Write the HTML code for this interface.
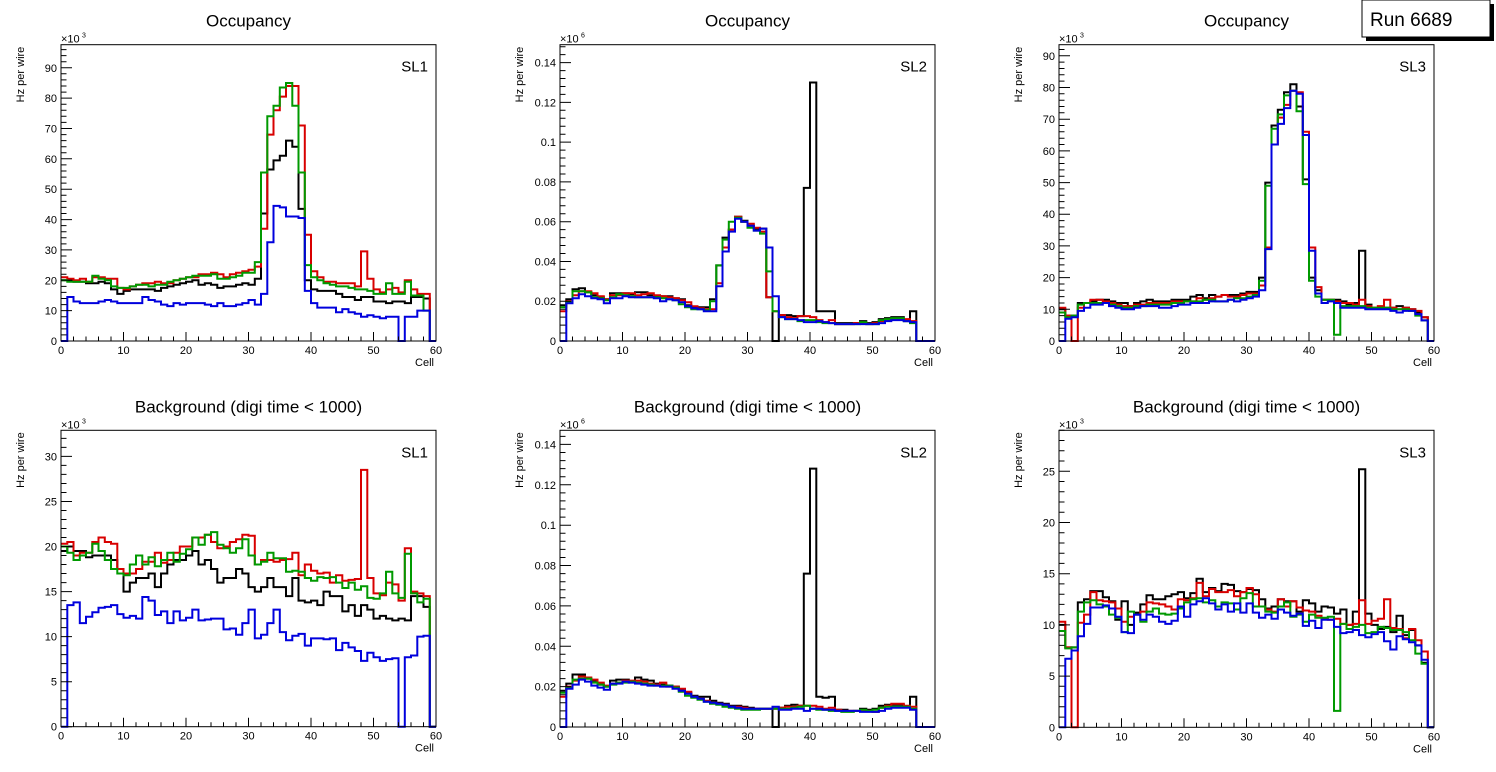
<!DOCTYPE html>
<html><head><meta charset="utf-8"><style>
html,body{margin:0;padding:0;background:#fff;}
svg{display:block;font-family:"Liberation Sans",sans-serif;}
</style></head><body>
<svg id="c" width="1496" height="772" viewBox="0 0 1496 772">
<g>
<rect x="1366" y="4" width="128" height="37" fill="#000"/>
<rect x="1362" y="0" width="128" height="37" fill="#fff" stroke="#000" stroke-width="1"/>
<text x="1370" y="26" font-size="19">Run 6689</text>
</g>
</svg>
<script>
// ---- data (bins 0..59) ----
const cells = Array.from({length:60},(_,i)=>i);
const seriesColors = ["#000000","#d80000","#009900","#0000dd"];

const occSL1Black=[20,20,19.5,19.5,19,19,19.5,19,17,15.5,16.5,17,17,17,17,16.5,17.5,18,18.5,19,19.5,20,18.5,19,18.5,17.5,18,18,18.5,19,18.5,20.5,42,56.5,59.5,61,66,64,43.5,20,17,16.5,16.5,16.5,15.5,14.5,14.5,13.5,14.5,14.5,13,13,12.5,13,13,12.5,14.5,14.5,14,0];
const occSL1Red=[21,20.5,20,20.5,19.5,21,21,20.5,20.5,17.5,17,18,18.5,19,19,19.5,19,19,20,20.5,21,21,22,22,22.5,22,21,22,22.5,23,23.5,24.5,37,68,76,80.5,84,84,71,35,23,21,19.5,19.5,19,19,19,18,29.5,20.5,17,16,17,17.5,16,20,17,15.5,15.5,0];
const occSL1Green=[20,19.5,19.5,19.5,19.5,21.5,20.5,20,18,17.5,17.5,18,18.5,18.5,18,18.5,18.5,19.5,20,20.5,21,21.5,21.5,21.5,22,20.5,20.5,21,21.5,22.5,22.5,26,55.5,74,77.5,83.5,85,77.5,55.5,25,21,20,19,18.5,18,18,17.5,17,17,16.5,15.5,15.5,19,15.5,15.5,19.5,15,15,10,0];
const occSL1Blue=[0,14.5,13,12.5,12.5,12.5,13,13.5,13,12.5,12.5,12.5,12.5,14.5,13.5,13,12,11.5,12.5,12,12.5,12.5,12.5,12,11.5,12.5,11.5,11.5,12,12.5,13.5,12,15.5,32.5,44.5,44,41,41,40.5,16.5,12.5,11,11,11,9.5,10.5,9.5,9,8,8.5,8,7.5,8,8,0,8,8,10,10,0];

const occSL2Black=[18,21,26,26.5,24.5,23,22,21,24,24,24,23.5,24.5,24.5,23,22.5,22.5,22.5,21.5,21,18,17,17,17,21,38,52,56,62.5,60.5,58,56.5,56.5,22,0,13,13,12.5,12.5,77,130,15,15,15,9,9,9,9,10,9,9.5,11,11.5,12,12,10,15,0,0,0];
const occSL2Red=[15,20,23,25,25,24,22.5,21,23,23,24,24,23,23.5,24,23,22.5,22,21.5,20.5,19.5,17.5,16.5,16,16,29,47,56,62.5,60,59,57,55,22,15,13,12,11.5,12.5,12.5,12,10.5,9.5,10.5,8.5,8.5,8.5,9,9,8.5,9,10,10.5,11,11,11,10,0,0,0];
const occSL2Green=[17,19.5,25,25,24.5,22,21.5,20.5,22,23.5,23,22.5,22,22,22,22,21.5,21,20.5,18.5,17,16,16,15.5,20,38,51,60,62,60,57,55.5,54,35,15,12,11,11,10,10.5,10.5,9.5,9,9,8.5,8.5,8.5,8.5,9.5,8.5,8.5,10.5,11,11.5,11.5,10,9,0,0,0];
const occSL2Blue=[0,19,21.5,23.5,22.5,21.5,21,19,21.5,21.5,22.5,22,22,22,22,21.5,20,21,20.5,19.5,17.5,16.5,16,15,15,27.5,45,55,61.5,60,58,55.5,56.5,47,22.5,12,11,11,10.5,9.5,9.5,10,9.5,9,8.5,8.5,8.5,8.5,8.5,8.5,8.5,9,10,10.5,10.5,10,9.5,0,0,0];

const occSL3Black=[10,8,8,12,12,12.5,13,13,12.5,12,12,11,12,12.5,13,12.5,12.5,12.5,13,13,13,14,14.5,13.5,14.5,14,14.5,14.5,14.5,15,15.5,15.5,20,50,68,73,78.5,81,74,51,20,16,13,13,13,12.5,11.5,12,28.5,11.5,10.5,10.5,10.5,10.5,11,10.5,10,9,7.5,0];
const occSL3Red=[10.5,8,0,10.5,12,13,13,12.5,12,11.5,11,11,11.5,11.5,12,12,12,12,12.5,12.5,12.5,12.5,13.5,13,13.5,14,14.5,14,14,14.5,15,15,17.5,29.5,62,70.5,74.5,79,78.5,66,29.5,17,13,13,12.5,12,12,11.5,13,11,10.5,11,13,10.5,10,10.5,10,9.5,7.5,0];
const occSL3Green=[9,7.5,8,11.5,12,12,12,12,11.5,11,10.5,10.5,11,11,11.5,11.5,11.5,11.5,12,12,12.5,12.5,12.5,13,13,12.5,12.5,13,13.5,13.5,14,14.5,19,49,67,71.5,77.5,79,72.5,49.5,19,14,13,13,2,11,11,11,11,10.5,10.5,10.5,10.5,10,10,10,9.5,8,6.5,0];
const occSL3Blue=[0,7,7.5,9.5,10.5,11.5,11.5,12,11,10.5,10,10,10.5,11,11,11,10.5,10.5,11,11.5,11.5,12,12,12,12.5,12.5,12.5,13,12.5,13,13.5,14,16,29,62,68.5,73.5,79,78,65,28.5,15,12,12.5,12,10.5,10.5,10.5,10.5,10,10,10,10,9.5,9,9.5,9.5,8.5,6.5,0];

const bgSL1Black=[19.5,20,19.5,19.5,18.8,19,19,19,18.5,17.5,15,16,16.5,16.5,17,15.5,17,18,18.5,18.5,19,19.5,18,18.5,17.5,16,16.5,16.5,17.5,17,15.5,15,15.5,16.5,15.5,15.5,14.5,16.5,14,13.8,14,13.5,15,14.5,14.5,12.8,13.5,12.3,13.5,13,12,12.3,12,11.8,12,11.8,14.5,14.5,13.3,0];
const bgSL1Red=[20.3,20.5,19,19.3,19.3,20.5,21,20.5,20.3,17.5,17,17,17.5,18.3,18.3,19.3,18.2,18.5,19.3,20,20,21,21,21.3,20.5,19.8,20,20.5,20.8,21.3,21.2,18,18.5,18.5,18.3,18.5,18.6,19.3,16.8,18,17.3,17,17.1,16,16.8,16.2,16.3,16.4,28.5,16.5,14.8,14.6,16,15.8,14,19.8,15,14.8,14.5,0];
const bgSL1Green=[20,19.3,18.5,19,19.3,20.3,19.5,18.5,17.5,17,16.8,18,19,18,18.8,17.8,18.5,19.3,18.3,19.2,19.7,21,20.2,21.3,21.6,20.2,19.8,19.3,19.8,20.8,19,18,18.3,19.3,18.7,18.7,17.2,17.3,17.2,16.5,16.2,16.6,16.5,16.6,16,15.4,16,15.2,15.6,14.3,14.2,14.8,17.2,14.8,14.3,19.2,14.8,13.8,14.2,0];
const bgSL1Blue=[0,13.5,13.8,11.5,12.2,12.7,13.2,13.3,13.5,12.5,12.1,12.3,12,14.4,14,12.4,12.8,11.5,12.8,11.8,12.1,13,11.8,11.9,12,12,10.8,10.9,10.2,11.5,13,9.8,10.2,11.5,13,10.5,9.6,10.1,10.3,9,9.8,9.8,9.7,9.8,8.5,9.3,8.8,8.4,7.3,8.2,7.7,7.3,7.5,7.6,0,7.7,7.9,10,10.1,0];

const bgSL2Black=[18,21.5,26,26,24,23,21,20,23,23.5,23.5,22.5,24.5,23.5,23,21.5,21,20.5,20,18.5,17,15.5,15,15,13,12,11.5,10.5,10.5,10,9.5,9,9,9,0,9.5,10.5,11,10.5,76,128,15,14.5,15,8.5,8.5,8,8,9,8.5,9,10.5,11,11,11,10,15,0,0,0];
const bgSL2Red=[15,20,23,25,24.5,23.5,22,20.5,21.5,22,23,23,23,22.5,21.5,21,22,20,20,19,17.5,15,14,13,12,11.5,11,10,10,9.5,9,9,9,9,9,9.5,10,10,10.5,10.5,10.5,10,9,9.5,8.5,8,8,8,8,8,7.5,9.5,10.5,11.5,11.5,10.5,10,0,0,0];
const bgSL2Green=[17,19.5,23.5,24,24,22,21,20,21,22,22,22.5,22,21.5,21,20.5,20.5,20.5,19.5,17.5,15.5,14.5,13.5,12.5,11.5,11,10,9.5,9,8.5,8.5,8.5,9,9,9,9,9,9.5,10,10.5,9,8.5,8.5,8,8,7.5,7.5,8,8.5,8,8.5,9.5,10,10,10,10,9,0,0,0];
const bgSL2Blue=[0,19,21,23.5,22.5,20.5,19.5,18.5,21.5,21.5,22.5,22,21.5,21,20.5,20.5,20,20,19,18,16.5,15,14,12.5,12,11.5,11,10,9.5,9,9,9,9,9,10,8.5,8.5,9,9,8,9,9,8.5,8.5,8,8,8,8,7.5,7.5,7.5,8,9,9.5,9.5,9.5,8.5,0,0,0];

const bgSL3Black=[10,7.8,7.8,12.2,12.5,13.3,13.3,12.7,12.3,10.5,12.3,10,11.2,12,12.9,12.5,12.5,12.8,13,13.2,12.6,13.1,14.5,13.2,13.6,13.3,14,13.9,13.3,13.2,13.5,13.4,12.5,11.6,11.8,12.5,12.3,12.3,11.3,12.4,12.1,11.3,11.8,11.7,11.1,11.5,10,11.3,25.2,11.1,10,9.6,9.8,9.3,10.9,9,9.5,8,6.3,0];
const bgSL3Red=[10.3,7.8,0,10.2,11,13.2,12.4,12.3,12.2,11.6,10.3,10.8,11,11.3,12.2,12.1,12,11.8,11.5,12.5,12.4,12.6,14.1,12.8,13.5,13.2,13.2,13.4,12.8,13.2,13.6,13,11.8,11.5,11.3,12.5,11.8,12.3,11.7,11.4,11.3,10.9,10.6,10.5,10.6,10.1,10,10.1,12.4,10.1,10.4,10.6,12.5,9.7,9.6,8.7,9.6,8.5,7.4,0];
const bgSL3Green=[9.4,7.7,7.8,11.3,12.2,12.4,12,11.8,11,10.7,9.3,11.3,11,10.3,11.3,11.6,11.1,11,11.1,11.6,12.2,12.5,12.6,12.2,12.4,11.8,12.2,12.1,11.5,12.6,13.1,11.8,11.8,11.3,11.2,11.8,12.2,10.8,11,10.3,11,10.7,10.7,10.8,1.6,10.1,9.6,9.8,10,9.2,9.3,9.8,9.7,9.5,9.5,9.3,8.5,7.2,6.2,0];
const bgSL3Blue=[0,6.7,7.5,8.9,10.1,11.7,11.7,11.9,11.6,10.8,9.3,9.2,11,10.5,11,10.8,10.3,10.1,10.4,11.8,10.8,12,12.3,12.6,12.1,11.5,12,11.3,12.1,11.2,12.1,11.2,10.7,11,10.6,11.5,11.2,10.9,11.1,9.9,10.4,9.7,10.5,10.5,9.8,9.2,9.3,9.5,9,8.8,9.1,9.3,8.4,7.6,8.9,8.6,8.3,8,6.6,0];

const xTickLabels=[0,10,20,30,40,50,60];

// ---- layout ----
const panels=[
 {name:"occupancy-sl1",l:61,r:436,t:44.7,b:341,ymax:97.6,major:10,minor:2,div:1,exp:"3",title:"Occupancy",sl:"SL1",s:[occSL1Black,occSL1Red,occSL1Green,occSL1Blue]},
 {name:"occupancy-sl2",l:560,r:935,t:44.7,b:341,ymax:149,major:20,minor:4,div:1000,exp:"6",title:"Occupancy",sl:"SL2",s:[occSL2Black,occSL2Red,occSL2Green,occSL2Blue]},
 {name:"occupancy-sl3",l:1059,r:1434,t:44.7,b:341,ymax:93.5,major:10,minor:2,div:1,exp:"3",title:"Occupancy",sl:"SL3",s:[occSL3Black,occSL3Red,occSL3Green,occSL3Blue]},
 {name:"background-sl1",l:61,r:436,t:430.3,b:726.7,ymax:32.9,major:5,minor:1,div:1,exp:"3",title:"Background (digi time < 1000)",sl:"SL1",s:[bgSL1Black,bgSL1Red,bgSL1Green,bgSL1Blue]},
 {name:"background-sl2",l:560,r:935,t:430.3,b:727,ymax:147,major:20,minor:4,div:1000,exp:"6",title:"Background (digi time < 1000)",sl:"SL2",s:[bgSL2Black,bgSL2Red,bgSL2Green,bgSL2Blue]},
 {name:"background-sl3",l:1059,r:1434,t:430.3,b:727.3,ymax:29,major:5,minor:1,div:1,exp:"3",title:"Background (digi time < 1000)",sl:"SL3",s:[bgSL3Black,bgSL3Red,bgSL3Green,bgSL3Blue]}
];
const NS="http://www.w3.org/2000/svg";
const svg=document.getElementById('c');
function mk(tag,attrs,parent,txt){const e=document.createElementNS(NS,tag);for(const k in attrs)e.setAttribute(k,attrs[k]);if(txt!==undefined)e.textContent=txt;parent.appendChild(e);return e;}
const seriesNames=["black","red","green","blue"];
panels.forEach(p=>{
 const g=mk('g',{},svg);
 
 
 const X=v=>p.l+(v/60)*(p.r-p.l);
 const Y=v=>p.b-(v/p.ymax)*(p.b-p.t);
 const cx=(p.l+p.r)/2;
 const tt=mk('text',{x:cx,y:p.t-18,'font-size':17,'text-anchor':'middle'},g,p.title);
 
 
 // series
 p.s.forEach((arr,si)=>{
  let d="M"+X(0).toFixed(1)+","+Y(arr[0]).toFixed(1);
  for(let i=0;i<cells.length;i++){
   if(i>0) d+=" V"+Y(arr[i]).toFixed(1);
   d+=" H"+X(cells[i]+1).toFixed(1);
  }
  const path=mk('path',{d:d,fill:'none',stroke:seriesColors[si],'stroke-width':2,'stroke-linejoin':'miter'},g);
  
  
 });
 // frame
 const fr=mk('rect',{x:p.l,y:p.t,width:p.r-p.l,height:p.b-p.t,fill:'none',stroke:'#000','stroke-width':1},g);
 
 
 // x ticks
 let td="";
 for(let v=0;v<=60;v+=2){const L=(v%10===0)?9:4.5;td+="M"+X(v).toFixed(1)+","+p.b+" v"+(-L)+" ";}
 // y ticks
 for(let v=0;v<=p.ymax+1e-9;v+=p.minor){const maj=Math.abs(v/p.major-Math.round(v/p.major))<1e-6;const L=maj?11:5.5;td+="M"+p.l+","+Y(v).toFixed(1)+" h"+L+" ";}
 const tk=mk('path',{d:td,stroke:'#000','stroke-width':1,fill:'none'},g);
 
 
 xTickLabels.forEach(v=>{
  const t=mk('text',{x:X(v),y:p.b+13,'font-size':11,'text-anchor':'middle'},g,String(v));
  
  
 });
 for(let v=0;v<=p.ymax+1e-9;v+=p.major){
  const lab=String(parseFloat((v/p.div).toFixed(3)));
  const t=mk('text',{x:p.l-4,y:Y(v)+4,'font-size':11,'text-anchor':'end'},g,lab);
  
  
 }
 const xl=mk('text',{x:p.r-2,y:p.b+25,'font-size':11,'text-anchor':'end'},g,"Cell");
 
 
 const yl=mk('text',{x:0,y:0,'font-size':11,'text-anchor':'end',transform:"translate("+(p.l-37)+","+(p.t+2)+") rotate(-90)"},g,"Hz per wire");
 
 
 const ex=mk('text',{x:p.l,y:p.t-2,'font-size':11},g,"×10");
 
 
 const es=mk('text',{x:p.l+21,y:p.t-7,'font-size':7},g,p.exp);
 
 
 const sl=mk('text',{x:p.r-8,y:p.t+27,'font-size':15,'text-anchor':'end'},g,p.sl);
 
 
});
</script>
</body></html>
